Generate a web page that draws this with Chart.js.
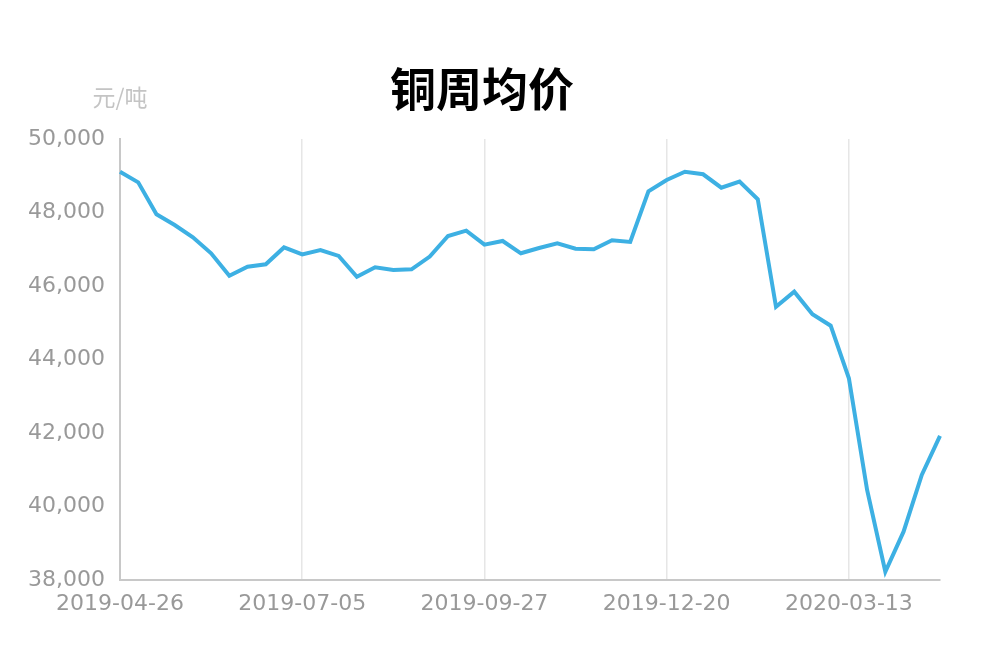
<!DOCTYPE html>
<html><head><meta charset="utf-8">
<script src="https://cdn.jsdelivr.net/npm/chart.js@4"></script>
<style>html,body{margin:0;padding:0;background:#fff}#wrap{width:1000px;height:660px;position:relative}</style>
</head><body><div id="wrap"><canvas id="c" width="1000" height="660"></canvas></div>
<script>
const titleText = '铜周均价';
const unitText = '元/吨';
const labels = [
  '2019-04-26','2019-05-03','2019-05-10','2019-05-17','2019-05-24','2019-05-31','2019-06-07','2019-06-14','2019-06-21','2019-06-28',
  '2019-07-05','2019-07-12','2019-07-19','2019-07-26','2019-08-02','2019-08-16','2019-08-23','2019-08-30','2019-09-06','2019-09-20',
  '2019-09-27','2019-10-11','2019-10-18','2019-10-25','2019-11-01','2019-11-08','2019-11-15','2019-11-22','2019-11-29','2019-12-06',
  '2019-12-20','2019-12-27','2020-01-03','2020-01-10','2020-01-17','2020-02-07','2020-02-14','2020-02-21','2020-02-28','2020-03-06',
  '2020-03-13','2020-03-20','2020-03-27','2020-04-03','2020-04-10','2020-04-17'
];
const prices = [
  49110,48820,47950,47660,47325,46890,46280,46525,46590,47050,
  46860,46980,46820,46250,46510,46435,46455,46800,47360,47505,
  47125,47225,46890,47035,47160,47015,47000,47245,47200,48575,
  48885,49110,49040,48675,48840,48360,45435,45845,45230,44920,
  43490,40450,38225,39315,40860,41920
];
const yMin = 38000, yMax = 50000, yStep = 2000;
const labelEvery = 10;

const extraText = {
  id: 'extraText',
  afterDraw(chart) {
    const ctx = chart.ctx;
    ctx.save();
    ctx.textAlign = 'center';
    ctx.textBaseline = 'middle';
    ctx.fillStyle = '#000';
    ctx.font = 'bold 46px "Noto Sans CJK SC"';
    ctx.fillText(titleText, 482, 89);
    ctx.fillStyle = '#c4c4c4';
    ctx.font = '23px "Noto Sans CJK SC"';
    ctx.fillText(unitText, chart.chartArea.left, 97);
    ctx.restore();
  }
};

new Chart(document.getElementById('c'), {
  type: 'line',
  data: { labels: labels, datasets: [{
    data: prices, borderColor: '#3db0e3', borderWidth: 4, pointRadius: 0, tension: 0, fill: false
  }]},
  plugins: [extraText],
  options: {
    responsive: false, animation: false,
    layout: { padding: { left: 0, right: 60, top: 139, bottom: 0 } },
    plugins: { legend: { display: false }, title: { display: false }, tooltip: { enabled: false } },
    scales: {
      x: {
        grid: { drawTicks: false, color: (c) => (c.index % labelEvery === 0 ? '#e6e6e6' : 'rgba(0,0,0,0)'), lineWidth: 1.5 },
        border: { color: '#c8c8c8', width: 2 },
        ticks: { autoSkip: false, maxRotation: 0, padding: 11, color: '#999', font: { family: 'DejaVu Sans', size: 22 },
          callback: function(v, i) { return i % labelEvery === 0 ? labels[i] : ''; } },
        afterFit: (s) => { s.height = 80; }
      },
      y: {
        min: yMin, max: yMax,
        grid: { display: false, drawTicks: false },
        border: { color: '#c8c8c8', width: 2 },
        ticks: { stepSize: yStep, padding: 15, color: '#999', font: { family: 'DejaVu Sans', size: 22 },
          callback: (v) => v.toLocaleString('en-US') },
        afterFit: (s) => { s.width = 120; }
      }
    }
  }
});
</script></body></html>
